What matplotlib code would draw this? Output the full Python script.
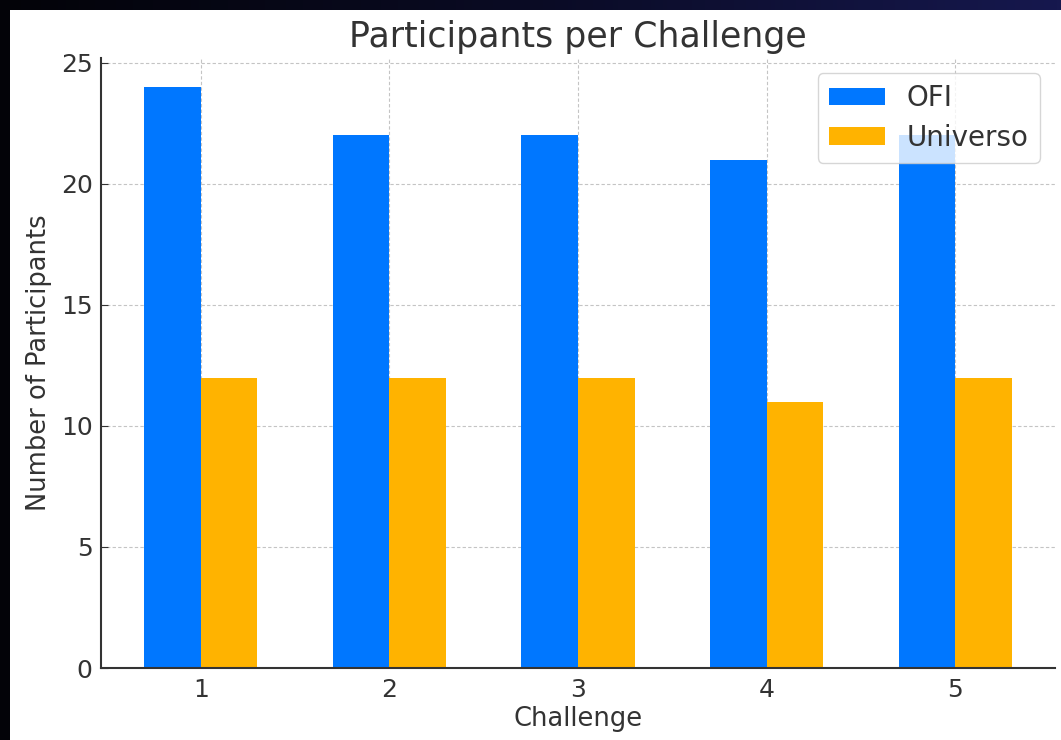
import numpy as np
import matplotlib
matplotlib.use("Agg")
import matplotlib.pyplot as plt
from matplotlib.patches import Rectangle
from matplotlib.colors import LinearSegmentedColormap

challenges = [1, 2, 3, 4, 5]
ofi = [24, 22, 22, 21, 22]
universo = [12, 12, 12, 11, 12]
series_labels = ["OFI", "Universo"]
title = "Participants per Challenge"
xlabel = "Challenge"
ylabel = "Number of Participants"

W, H = 1061, 740
fig = plt.figure(figsize=(W / 100, H / 100), dpi=100)

# dark gradient backdrop
bg = fig.add_axes([0, 0, 1, 1], zorder=-10)
cmap = LinearSegmentedColormap.from_list("bg", ["#030308", "#0a0b24", "#16184e"])
grad = np.linspace(0, 1, 256).reshape(1, -1)
bg.imshow(grad, aspect="auto", cmap=cmap, extent=[0, 1, 0, 1])
bg.set_xlim(0, 1); bg.set_ylim(0, 1)
bg.axis("off")
bg.add_patch(Rectangle((10 / W, 0), 1 - 10 / W, 1 - 10 / H, facecolor="white",
                       edgecolor="none", transform=bg.transAxes))

ax = fig.add_axes([101 / W, (H - 668) / H, (1055 - 101) / W, (668 - 58) / (H)])
ax.set_facecolor("none")
x = np.array(challenges, dtype=float)
w = 0.3
ax.bar(x - w / 2, ofi, w, color="#0077ff", label=series_labels[0], zorder=2)
ax.bar(x + w / 2, universo, w, color="#ffb300", label=series_labels[1], zorder=2)

txt = "#333333"
ax.set_title(title, fontsize=25, color=txt, pad=8)
ax.set_xlabel(xlabel, fontsize=18.5, color=txt, labelpad=3)
ax.set_ylabel(ylabel, fontsize=18.5, color=txt, labelpad=6)
ax.set_xticks(challenges)
ax.set_yticks([0, 5, 10, 15, 20, 25])
ax.tick_params(axis="both", labelsize=18, colors=txt, direction="in", length=5)
ax.tick_params(axis="x", pad=7)
ax.tick_params(axis="y", pad=6)
ax.grid(True, linestyle=(0, (3, 2)), color="#c4c4c4", linewidth=0.8, zorder=0)
ax.set_axisbelow(True)
for s in ["top", "right"]:
    ax.spines[s].set_visible(False)
for s in ["left", "bottom"]:
    ax.spines[s].set_color(txt)
    ax.spines[s].set_linewidth(1.5)
leg = ax.legend(loc="upper right", fontsize=20, framealpha=0.8, edgecolor="#cccccc",
                handlelength=2.0, handleheight=0.6, borderpad=0.4, labelspacing=0.4,
                borderaxespad=0.55)
for t in leg.get_texts():
    t.set_color(txt)

fig.savefig("out.png", dpi=100)
